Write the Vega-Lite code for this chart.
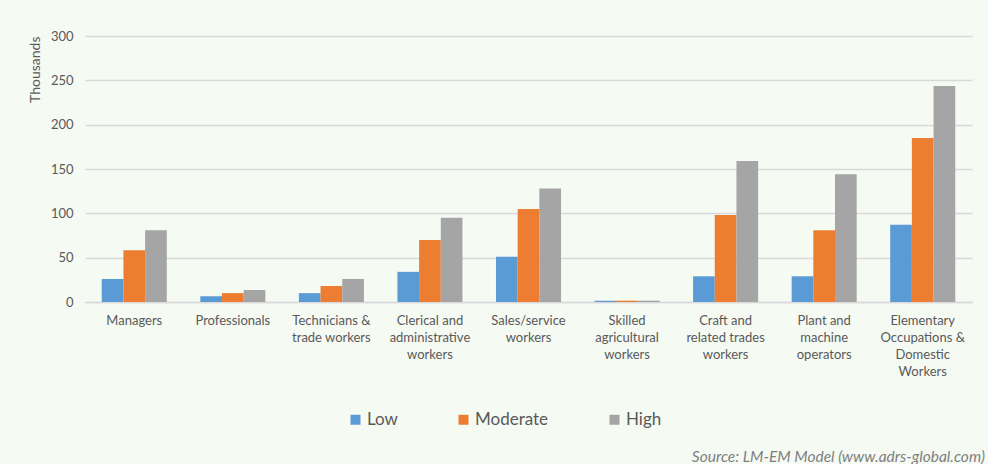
{
  "$schema": "https://vega.github.io/schema/vega-lite/v6.json",
  "width": 887,
  "height": 266,
  "autosize": {"type": "none"},
  "padding": {"left": 85, "top": 36, "right": 16, "bottom": 162},
  "background": "#F5FAF3",
  "config": {
    "view": {"stroke": null},
    "font": "Lato"
  },
  "title": {
    "text": "Source: LM-EM Model (www.adrs-global.com)",
    "orient": "bottom",
    "anchor": "end",
    "fontStyle": "italic",
    "fontWeight": "normal",
    "fontSize": 15.5,
    "color": "#7F7F7F",
    "offset": 22,
    "dx": 13
  },
  "data": {
    "values": [
      {"cat": "Managers", "level": "Low", "value": 26},
      {"cat": "Managers", "level": "Moderate", "value": 58.5},
      {"cat": "Managers", "level": "High", "value": 81},
      {"cat": "Professionals", "level": "Low", "value": 6.5},
      {"cat": "Professionals", "level": "Moderate", "value": 10},
      {"cat": "Professionals", "level": "High", "value": 13.5},
      {"cat": "Technicians &|trade workers", "level": "Low", "value": 10},
      {"cat": "Technicians &|trade workers", "level": "Moderate", "value": 18},
      {"cat": "Technicians &|trade workers", "level": "High", "value": 26},
      {"cat": "Clerical and|administrative|workers", "level": "Low", "value": 34},
      {"cat": "Clerical and|administrative|workers", "level": "Moderate", "value": 70},
      {"cat": "Clerical and|administrative|workers", "level": "High", "value": 95},
      {"cat": "Sales/service|workers", "level": "Low", "value": 51},
      {"cat": "Sales/service|workers", "level": "Moderate", "value": 105},
      {"cat": "Sales/service|workers", "level": "High", "value": 128},
      {"cat": "Skilled|agricultural|workers", "level": "Low", "value": 1.5},
      {"cat": "Skilled|agricultural|workers", "level": "Moderate", "value": 1.5},
      {"cat": "Skilled|agricultural|workers", "level": "High", "value": 1.5},
      {"cat": "Craft and|related trades|workers", "level": "Low", "value": 29},
      {"cat": "Craft and|related trades|workers", "level": "Moderate", "value": 98},
      {"cat": "Craft and|related trades|workers", "level": "High", "value": 159},
      {"cat": "Plant and|machine|operators", "level": "Low", "value": 29},
      {"cat": "Plant and|machine|operators", "level": "Moderate", "value": 81},
      {"cat": "Plant and|machine|operators", "level": "High", "value": 144},
      {"cat": "Elementary|Occupations &|Domestic|Workers", "level": "Low", "value": 87},
      {"cat": "Elementary|Occupations &|Domestic|Workers", "level": "Moderate", "value": 185},
      {"cat": "Elementary|Occupations &|Domestic|Workers", "level": "High", "value": 243.5}
    ]
  },
  "mark": {"type": "bar"},
  "encoding": {
    "x": {
      "field": "cat",
      "type": "nominal",
      "sort": null,
      "scale": {"paddingInner": 0.34, "paddingOuter": 0.17},
      "axis": {
        "title": null,
        "labelAngle": 0,
        "labelExpr": "split(datum.value, '|')",
        "labelFontSize": 13,
        "labelColor": "#595959",
        "labelLineHeight": 17,
        "labelPadding": 12,
        "ticks": false,
        "domainColor": "#D9D9D9",
        "domainWidth": 1.5,
        "labelBaseline": "top"
      }
    },
    "xOffset": {
      "field": "level",
      "type": "nominal",
      "sort": ["Low", "Moderate", "High"],
      "scale": {"paddingInner": 0, "paddingOuter": 0}
    },
    "y": {
      "field": "value",
      "type": "quantitative",
      "scale": {"domain": [0, 300]},
      "axis": {
        "title": "Thousands",
        "titleFontSize": 14,
        "titleFontWeight": "normal",
        "titleColor": "#595959",
        "titleAnchor": "end",
        "titlePadding": 8,
        "values": [0, 50, 100, 150, 200, 250, 300],
        "labelFontSize": 13,
        "labelColor": "#595959",
        "labelPadding": 12,
        "ticks": false,
        "domain": false,
        "gridColor": "#D9D9D9",
        "gridWidth": 1.5
      }
    },
    "color": {
      "field": "level",
      "type": "nominal",
      "sort": ["Low", "Moderate", "High"],
      "scale": {"domain": ["Low", "Moderate", "High"], "range": ["#5B9BD5", "#ED7D31", "#A5A5A5"]},
      "legend": {
        "title": null,
        "orient": "none",
        "legendX": 262,
        "legendY": 375,
        "direction": "horizontal",
        "symbolType": "square",
        "symbolSize": 100,
        "symbolStrokeWidth": 0,
        "symbolOpacity": 1,
        "labelFontSize": 17,
        "labelColor": "#595959",
        "labelOffset": 3,
        "columnPadding": 57
      }
    }
  }
}
